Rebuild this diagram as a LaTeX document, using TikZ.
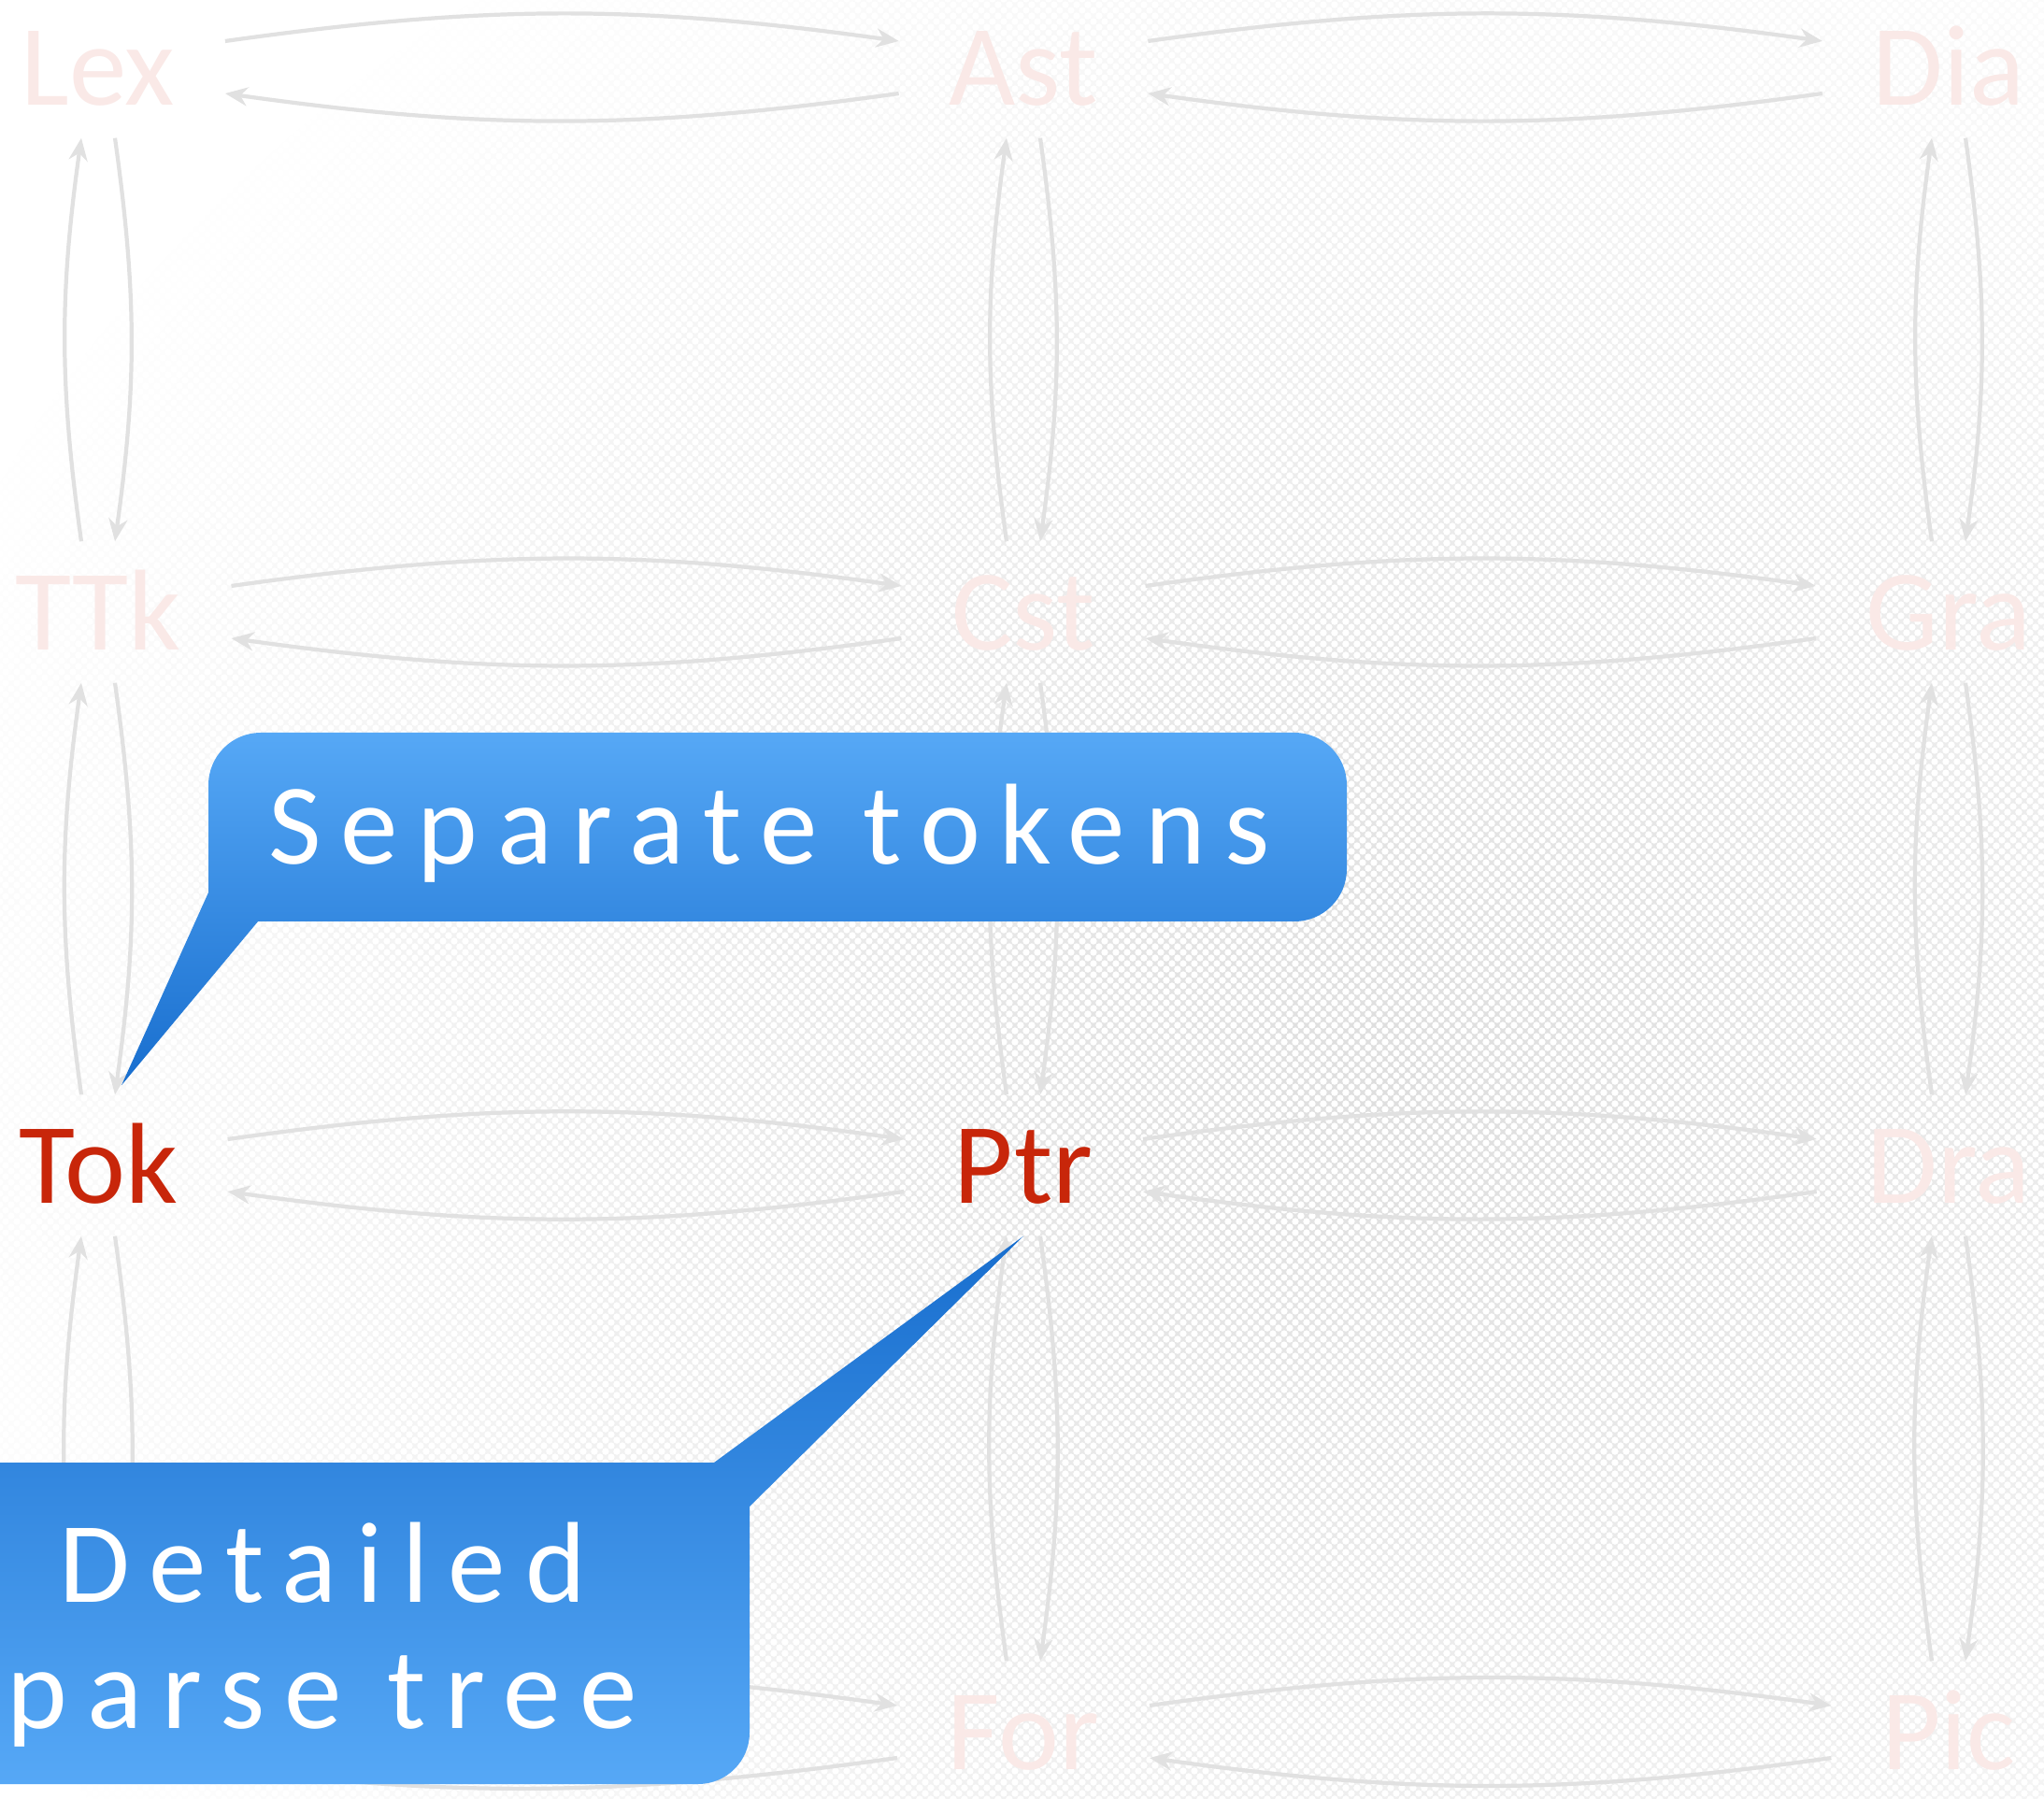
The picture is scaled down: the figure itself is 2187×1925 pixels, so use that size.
\documentclass[tikz,border=0pt]{standalone}
\usepackage{fontspec}
\setmainfont{Carlito}
\usepackage{tikz}
\usetikzlibrary{arrows.meta}
\usetikzlibrary{patterns}

\definecolor{faintred}{RGB}{250,233,231}
\definecolor{hotred}{RGB}{200,38,10}
\definecolor{faintline}{RGB}{225,225,225}
\definecolor{calloutlight}{RGB}{86,168,246}
\definecolor{calloutdark}{RGB}{24,110,206}

\pgfdeclarepatternformonly{bubbles}{\pgfqpoint{0pt}{0pt}}{\pgfqpoint{3.4pt}{3.4pt}}{\pgfqpoint{3.4pt}{3.4pt}}{
  \pgfpathcircle{\pgfqpoint{0pt}{0pt}}{1.05pt}
  \pgfpathcircle{\pgfqpoint{3.4pt}{0pt}}{1.05pt}
  \pgfpathcircle{\pgfqpoint{0pt}{3.4pt}}{1.05pt}
  \pgfpathcircle{\pgfqpoint{3.4pt}{3.4pt}}{1.05pt}
  \pgfpathcircle{\pgfqpoint{1.7pt}{1.7pt}}{1.05pt}
  \pgfusepath{fill}}

\tikzset{
  stage/.style={font=\fontsize{35}{40}\selectfont, text=faintred,
    inner xsep=0.53cm, inner ysep=0.3cm, text height=0.85cm, text depth=0.05cm},
  hot/.style={text=hotred},
  flow/.style={draw=faintline, line width=1.2pt,
    -{Stealth[length=0.24cm,width=0.2cm]}, bend left=8},
  callout/.style={font=\fontsize{35}{38.4}\selectfont\addfontfeature{LetterSpace=17},
    text=white}
}

\begin{document}
\begin{tikzpicture}[x=0.01cm,y=0.01cm]
    \useasboundingbox (0,0) rectangle (2187,-1925);
    \begin{scope}
        \clip (0,0) rectangle (2187,-1925);
        \shade[inner color=gray!26, outer color=white] (-200,300) rectangle (3200,-2600);
    \end{scope}
    \fill[pattern=bubbles, pattern color=white] (0,0) rectangle (2187,-1925);

    \node[stage] (lex) at (105,-72) {Lex};
    \node[stage] (ast) at (1095,-72) {Ast};
    \node[stage] (dia) at (2085,-72) {Dia};
    \node[stage] (ttk) at (105,-655) {TTk};
    \node[stage] (cst) at (1095,-655) {Cst};
    \node[stage] (gra) at (2085,-655) {Gra};
    \node[stage,hot] (tok) at (105,-1247) {Tok};
    \node[stage,hot] (ptr) at (1095,-1247) {Ptr};
    \node[stage] (dra) at (2085,-1247) {Dra};
    \node[stage] (src) at (105,-1853) {};
    \node[stage] (for) at (1095,-1853) {For};
    \node[stage] (pic) at (2085,-1853) {Pic};

    \foreach \a/\b in {lex/ast,ast/dia,ttk/cst,cst/gra,tok/ptr,ptr/dra,src/for,for/pic}{
        \draw[flow] ([yshift=0.28cm]\a.east) to ([yshift=0.28cm]\b.west);
        \draw[flow] ([yshift=-0.28cm]\b.west) to ([yshift=-0.28cm]\a.east);
    }
    \foreach \a/\b in {lex/ttk,ttk/tok,tok/src,ast/cst,cst/ptr,ptr/for,dia/gra,gra/dra,dra/pic}{
        \draw[flow] ([xshift=-0.18cm]\b.north) to ([xshift=-0.18cm]\a.south);
        \draw[flow] ([xshift=0.18cm]\a.south) to ([xshift=0.18cm]\b.north);
    }

    \shade[top color=calloutlight, bottom color=calloutdark]
        (223,-955) [rounded corners=0.56cm] -- (223,-784) -- (1441,-784) -- (1441,-986)
        -- (330,-986) [sharp corners] -- (276,-986) -- ([xshift=0.25cm,yshift=0.1cm]tok.north) -- cycle;
    \node[callout, anchor=base] (septok) at (823,-925) {Separate tokens};

    \shade[top color=calloutdark, bottom color=calloutlight]
        (802,-1612) [rounded corners=0.55cm] -- (802,-1909) -- (-112,-1909) -- (-112,-1565)
        -- (710,-1565) [sharp corners] -- (764,-1565) -- (ptr.south) -- cycle;
    \node[callout, align=center] (parse) at (345,-1749) {Detailed\\parse tree};
\end{tikzpicture}
\end{document}
